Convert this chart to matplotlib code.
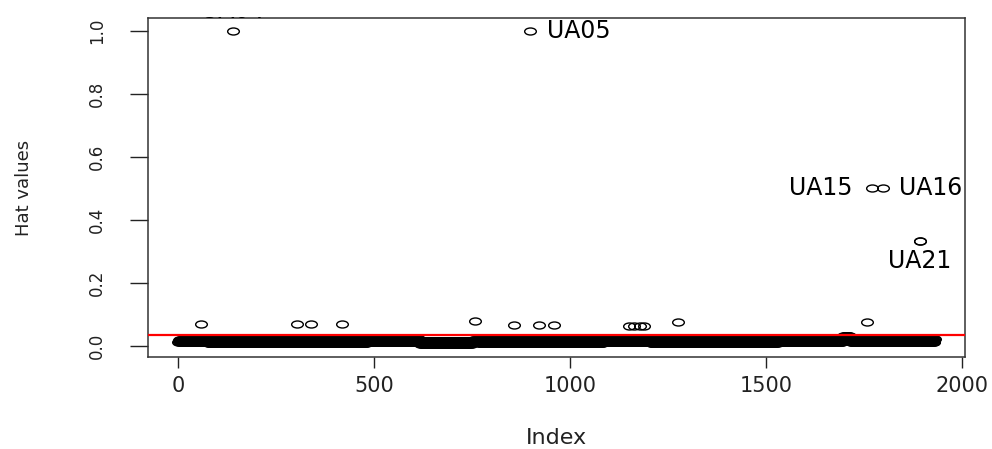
import numpy as np
import matplotlib
matplotlib.use("Agg")
import matplotlib.pyplot as plt
from matplotlib.path import Path
from matplotlib.patches import Rectangle
from matplotlib.transforms import Affine2D, offset_copy

plt.rcParams['font.family'] = ['DejaVu Sans']

# hat values of an lm fit
n_obs = 1931

# the dense bottom band, as runs of observations (start index, lower / upper hat value)
band_start = [0, 75, 482, 617, 720, 750, 766, 1085, 1205, 1415, 1530, 1620, 1695, 1715]
band_lo = [0.013, 0.009, 0.012, 0.006, 0.007, 0.014, 0.009, 0.013, 0.009, 0.008, 0.011, 0.013, 0.020, 0.011]
band_hi = [0.019, 0.021, 0.021, 0.017, 0.017, 0.020, 0.021, 0.021, 0.021, 0.020, 0.023, 0.025, 0.031, 0.021]

# the points that stand out
out_idx = [58, 140, 303, 339, 419, 758, 858, 898, 921, 959,
           1150, 1163, 1178, 1189, 1277, 1757, 1770, 1798, 1892, 1894]
out_hat = [0.071, 1.0, 0.071, 0.071, 0.071, 0.079, 0.068, 1.0, 0.068, 0.068,
           0.064, 0.064, 0.064, 0.064, 0.075, 0.075, 0.5, 0.5, 0.333, 0.333]

# labelled points: index, hat, text, side
lab_idx = [140, 898, 1770, 1798, 1893]
lab_hat = [1.0, 1.0, 0.5, 0.5, 0.333]
lab_txt = ['UA04', 'UA05', 'UA15', 'UA16', 'UA21']
lab_pos = ['above', 'right', 'left', 'right', 'below']

cutoff = 0.036

hat = np.empty(n_obs)
bounds = band_start + [n_obs]
for i in range(len(band_start)):
    a, b = bounds[i], bounds[i + 1]
    hat[a:b] = np.resize([band_lo[i], band_hi[i]], b - a)
hat[np.array(out_idx) - 1] = out_hat
index = np.arange(1, n_obs + 1)

W, H = 992, 449
L, R, T, B = 148, 965, 18, 357
fig = plt.figure(figsize=(W / 100, H / 100), dpi=100)
ax = fig.add_axes([L / W, (H - B) / H, (R - L) / W, (B - T) / H])

# the original was stretched sideways, so the circles are ellipses
ell = Path.unit_circle().transformed(Affine2D().scale(1.0, 0.6))
ax.plot(index, hat, ls='none', marker=ell, ms=8.4, mfc='none', mec='black', mew=1.0)
ax.axhline(cutoff, color='red', lw=1.6, zorder=5)

offsets = {'above': (0, 9, 'center', 'baseline'),
           'right': (12, 0, 'left', 'center'),
           'left': (-14, 0, 'right', 'center'),
           'below': (0, -6, 'center', 'top')}
for xi, yi, t, p in zip(lab_idx, lab_hat, lab_txt, lab_pos):
    dx, dy, ha, va = offsets[p]
    tr = offset_copy(ax.transData, fig=fig, x=dx, y=dy, units='points')
    ax.text(xi, yi, t, transform=tr, ha=ha, va=va, fontsize=17, color='black',
            clip_on=False)

# labels are cut at the plot box, as R does
fig.add_artist(Rectangle((0, (H - T + 1) / H), 1, (T - 1) / H, transform=fig.transFigure,
                         facecolor='white', edgecolor='none', zorder=10))
fig.add_artist(Rectangle(((R + 1) / W, (H - B) / H), (W - R - 1) / W, (B - T) / H,
                         transform=fig.transFigure, facecolor='white', edgecolor='none',
                         zorder=10))

ax.set_xlim(-76.5, 2008)
ax.set_ylim(-0.035, 1.040)
ax.set_xticks([0, 500, 1000, 1500, 2000])
ax.set_yticks([0.0, 0.2, 0.4, 0.6, 0.8, 1.0])
ax.set_yticklabels(['0.0', '0.2', '0.4', '0.6', '0.8', '1.0'], rotation=90, va='center')
ax.tick_params(axis='x', length=8, width=1, pad=6, labelsize=15, colors='#222222')
ax.tick_params(axis='y', length=13, width=1, pad=17, labelsize=12, colors='#222222')
for s in ax.spines.values():
    s.set_linewidth(1.1)
    s.set_color('#333333')

ax.set_xlabel('Index', fontsize=16, color='#222222')
ax.xaxis.label.set_verticalalignment('center')
ax.xaxis.set_label_coords(0.5, -0.239)
ax.set_ylabel('Hat values', fontsize=13, color='#222222')
ax.yaxis.label.set_verticalalignment('center')
ax.yaxis.set_label_coords(-0.152, 0.5)

fig.savefig('out.png', dpi=100)
